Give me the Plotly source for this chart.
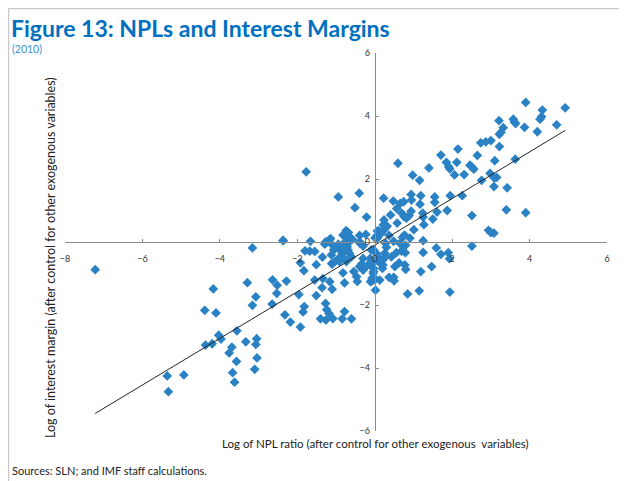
import numpy as np
import plotly.graph_objects as go

# Log of NPL ratio (x) and log of interest margin (y)
npl_log = [
    -7.22, -3.29, -4.17, -2.64, -2.52, -2.53, -3.07, -3.16, -2.65, -4.39, -4.10, -3.56, -4.03, -3.97,
    -4.37, -4.20, -3.69, -3.76, -3.33, -3.05, -3.07, -3.04, -3.57, -3.10, -3.67, -3.62, -5.36, -4.93, -5.33,
    -3.16, -2.36, -1.80, -1.68, -1.55,
    -1.77, -0.94, -0.40, -0.51, -0.21, -2.37, -1.66, -1.27, -1.29, -1.14, -1.18, -0.74, -0.68, -0.64, -0.58,
    -0.75, -0.82, -0.39, -0.23, -0.39, 0.01, 0.07,
    -1.92, -1.35, -1.12, -0.95, -0.88, -0.81, -0.71, -0.65, -0.91, -0.75, -1.11, -1.51, -1.83, -2.28, -1.55,
    -1.36, -1.16, -1.10, -1.96, -1.51, -1.82, -1.85, -2.32, -2.18, -1.92, -1.27, -1.24, -1.18, -1.40, -1.08,
    -0.78, -0.84, -0.60, -1.26, -0.82, -0.78, -0.54, -0.47, -0.45, -0.39, -0.11, 0.02, -0.30, -1.34, -0.34,
    -0.20, -0.30, -0.91, -1.10,
    -1.12, -0.99, -0.86, -0.82, -1.06, -0.69, -0.60, -0.73, -1.03, -0.38, -0.30, -0.12, -0.09, -0.03, -0.04,
    0.02, -0.07, -0.94, -0.82, -0.69, -1.03, -0.09, 0.04, 0.16, 0.21, 0.26, -0.07,
    1.71, 2.15, 0.60, 1.85, 1.91, 1.94, 2.12, 2.46, 2.52, 2.56, 1.40, 2.06, 2.31, 0.98, 1.16,
    0.23, 0.48, 0.94, 1.19, 1.55, 1.55, 1.95, 2.26, 0.66, 0.75, 0.95, 1.17, 0.57, 0.70, 0.76, 0.94, 0.89,
    0.82, 0.41, 0.24, 0.58, 0.22, 0.11, 0.17, 0.06, 0.37, 0.07, 0.77, 0.72, 0.91, 1.01, 1.25, 1.27, 1.50,
    1.61, 1.87, 1.25, 0.49, 0.28, 1.24, 0.32, 0.16, 0.25,
    3.90, 4.92, 4.33, 4.31, 4.27, 4.70, 4.20, 3.58, 3.61, 3.64, 3.87, 3.21, 3.32, 3.26, 3.22, 3.22, 3.00,
    2.87, 2.74, 2.65, 3.63, 3.10, 2.98, 2.76, 3.09, 3.15, 3.08, 3.42,
    2.51, 3.40, 3.90, 2.94, 3.00, 3.08, 2.51, 1.59, 1.71, 1.90, 1.25, 0.80,
    1.93, 1.47, 1.19, 1.15, 1.94, 0.85, 0.78, 0.80, 0.63, 0.52, 0.21, 0.20, 0.37, 0.49, 0.50, 0.13, -0.04,
    -0.03, -0.09, 0.13, 0.28, 0.43, 0.56, 0.69, 0.79, 0.30, 0.65, 0.73, -0.03, 0.04,
]
margin_log = [
    -0.88, -1.29, -1.49, -1.20, -1.37, -1.63, -1.74, -2.01, -1.97, -2.17, -2.25, -2.82, -2.96, -3.08,
    -3.27, -3.23, -3.34, -3.52, -3.17, -3.07, -3.25, -3.68, -3.79, -4.04, -4.15, -4.45, -4.25, -4.22, -4.75,
    -0.19, 0.04, -0.28, -0.29, -0.30,
    2.23, 1.43, 1.55, 1.09, 0.79, 0.05, 0.02, 0.00, -0.07, 0.11, 0.06, 0.36, 0.30, 0.14, 0.09,
    0.15, 0.22, 0.21, 0.24, 0.01, 0.13, 0.35,
    -0.66, -0.48, -0.41, -0.15, -0.28, -0.13, -0.15, -0.36, -0.49, -0.57, -0.68, -0.72, -0.91, -1.24, -1.21,
    -1.45, -1.26, -1.50, -1.67, -1.70, -2.05, -2.22, -2.31, -2.54, -2.70, -1.95, -2.15, -2.27, -2.44, -2.43,
    -2.21, -2.44, -2.44, -2.48, -0.98, -1.30, -0.94, -1.10, -1.25, -0.78, -1.26, -1.53, -0.52, -1.16, -0.70,
    -0.76, -0.89, -0.62, -0.70,
    -0.06, -0.15, -0.17, -0.36, -0.25, -0.25, -0.47, -0.62, -0.62, -0.04, -0.13, -0.52, -0.68, -0.84, -0.99,
    -1.18, -1.23, -0.07, -0.07, -0.04, -0.21, -0.25, -0.57, -0.70, -0.57, -0.36, -1.15,
    2.76, 2.95, 2.50, 2.53, 2.39, 2.32, 2.53, 2.44, 2.37, 2.31, 2.35, 2.13, 2.14, 2.12, 1.96,
    1.39, 1.30, 1.51, 1.47, 1.43, 1.26, 1.47, 1.47, 1.23, 1.28, 1.33, 1.20, 1.06, 0.91, 0.80, 0.98, 0.84,
    0.76, 0.86, 0.70, 0.60, 0.54, 0.35, 0.28, 0.21, 0.21, 0.12, 0.22, 0.15, 0.12, 0.39, 0.79, 0.55, 0.73,
    0.95, 1.00, 0.04, 0.02, -0.04, 0.92, 0.50, 0.30, 0.40,
    4.43, 4.26, 4.19, 3.98, 3.90, 3.72, 3.50, 3.90, 3.81, 3.76, 3.64, 3.85, 3.63, 3.48, 3.42, 3.03, 3.22,
    3.18, 3.15, 2.75, 2.63, 2.58, 2.18, 1.96, 2.03, 2.05, 1.76, 1.72,
    0.84, 1.02, 0.93, 0.37, 0.30, 0.28, -0.13, -0.19, -0.39, -0.34, -0.33, -0.10,
    -0.53, -0.78, -0.94, -1.55, -1.59, -1.65, -0.73, -0.87, -0.66, -0.78, -0.73, -0.84, -1.12, -1.12, -1.23,
    -1.21, -1.21, -0.94, -0.62, -0.52, -0.47, -0.47, -0.34, -0.29, -0.34, -0.17, -0.04, -0.10, -0.25, -0.36,
]

# Fitted line
trend_slope = 0.74
trend_intercept = -0.10

x_ticks = [-8, -6, -4, -2, 0, 2, 4, 6]
y_ticks = [-6, -4, -2, 0, 2, 4, 6]
x_range = [-8, 6]
y_range = [-6, 6]

title_text = "Figure 13: NPLs and Interest Margins"
subtitle_text = "(2010)"
x_title = "Log of NPL ratio (after control for other exogenous  variables)"
y_title = "Log of interest margin (after control for other exogenous variables)"
source_text = "Sources: SLN; and IMF staff calculations."

x = np.array(npl_log)
fit_x = np.array([x.min(), x.max()])
fit_y = trend_slope * fit_x + trend_intercept

# Page geometry (the page body has an 8px margin, so the figure is offset by it)
PAGE_W, PAGE_H = 627, 481
OFF = 8
L, R, T, B = 65, 20, 53, 50          # plot area edges in page pixels
PW, PH = PAGE_W - L - R, PAGE_H - T - B


def px_x(p):
    return (p - L) / PW


def px_y(p):
    return (PAGE_H - B - p) / PH


FONT = "Lato, sans-serif"

fig = go.Figure()
fig.add_trace(go.Scatter(
    x=npl_log, y=margin_log, mode="markers",
    marker=dict(symbol="diamond", size=7.5, color="#2A82C5", line=dict(width=0)),
    showlegend=False, hoverinfo="skip"))
fig.add_trace(go.Scatter(
    x=fit_x, y=fit_y, mode="lines",
    line=dict(color="#222222", width=1), showlegend=False, hoverinfo="skip"))

tick_font = dict(family=FONT, size=9, color="#333333")
axis_common = dict(showgrid=False, zeroline=False, showline=True, linecolor="#8C8C8C", linewidth=1,
                   ticks="inside", ticklen=3, tickcolor="#8C8C8C", tickfont=tick_font, anchor="free")

fig.update_layout(
    width=PAGE_W - OFF, height=PAGE_H - OFF,
    margin=dict(l=L - OFF, r=R, t=T - OFF, b=B),
    paper_bgcolor="white", plot_bgcolor="white",
    xaxis=dict(range=x_range, tickvals=x_ticks, position=0.5, ticklabelstandoff=8, **axis_common),
    yaxis=dict(range=y_range, tickvals=y_ticks, position=(0 - x_range[0]) / (x_range[1] - x_range[0]),
               ticklabelstandoff=3, **axis_common),
    font=dict(family=FONT),
)

ann = [
    dict(text="<b>" + title_text + "</b>", x=px_x(9), y=px_y(28), xanchor="left", yanchor="middle",
         font=dict(family=FONT, size=23, color="#0070C0")),
    dict(text=subtitle_text, x=px_x(10), y=px_y(49), xanchor="left", yanchor="middle",
         font=dict(family=FONT, size=10.5, color="#3A8FD0")),
    dict(text=x_title, x=px_x(375), y=px_y(443.5), xanchor="center", yanchor="middle",
         font=dict(family=FONT, size=11.5, color="#222222")),
    dict(text=y_title, x=px_x(50), y=px_y(258), xanchor="center", yanchor="middle", textangle=-90,
         font=dict(family=FONT, size=12.5, color="#222222")),
    dict(text=source_text, x=px_x(10), y=px_y(470), xanchor="left", yanchor="middle",
         font=dict(family=FONT, size=11, color="#222222")),
]
for a in ann:
    a.update(xref="paper", yref="paper", showarrow=False)
fig.update_layout(annotations=ann)

fig.add_shape(type="line", xref="paper", yref="paper", x0=px_x(OFF + 0.5), x1=px_x(PAGE_W), y0=px_y(OFF + 0.5),
              y1=px_y(OFF + 0.5), line=dict(color="#C8C8C8", width=1.5))
fig.add_shape(type="line", xref="paper", yref="paper", x0=px_x(OFF + 0.5), x1=px_x(OFF + 0.5), y0=px_y(OFF + 0.5),
              y1=px_y(PAGE_H), line=dict(color="#C8C8C8", width=1.5))

fig.write_html("out.html")
